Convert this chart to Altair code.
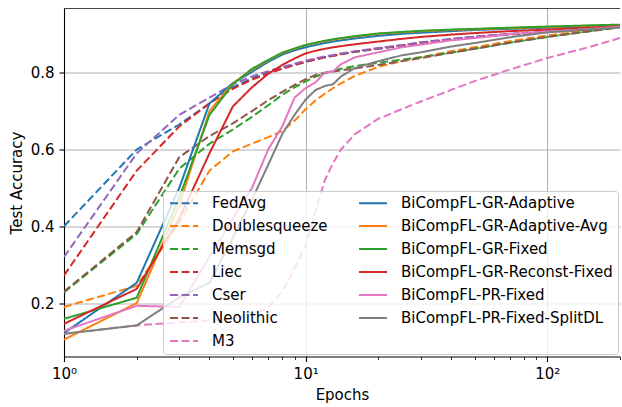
import altair as alt
import pandas as pd

EPOCHS = [1, 2, 3, 4, 5, 6, 7, 8, 9, 10, 11, 12, 13, 14, 16, 20, 25, 30, 40, 50, 70, 100, 150, 200]

FEDAVG = [0.400, 0.600, 0.665, 0.720, 0.762, 0.785, 0.800, 0.812, 0.820, 0.828, 0.835, 0.840,
          0.844, 0.848, 0.854, 0.862, 0.870, 0.877, 0.886, 0.892, 0.899, 0.905, 0.913, 0.919]
DOUBLESQUEEZE = [0.190, 0.245, 0.410, 0.545, 0.595, 0.615, 0.632, 0.648, 0.675, 0.705, 0.728, 0.745,
                 0.760, 0.772, 0.792, 0.815, 0.830, 0.840, 0.856, 0.866, 0.882, 0.897, 0.910, 0.920]
MEMSGD = [0.228, 0.380, 0.550, 0.615, 0.652, 0.685, 0.715, 0.742, 0.762, 0.777, 0.790, 0.798,
          0.805, 0.810, 0.817, 0.826, 0.834, 0.840, 0.852, 0.862, 0.878, 0.893, 0.908, 0.918]
LIEC = [0.272, 0.545, 0.660, 0.720, 0.758, 0.782, 0.798, 0.810, 0.820, 0.828, 0.834, 0.840,
        0.844, 0.848, 0.855, 0.863, 0.871, 0.878, 0.887, 0.893, 0.900, 0.906, 0.913, 0.920]
CSER = [0.320, 0.590, 0.690, 0.735, 0.770, 0.790, 0.804, 0.815, 0.823, 0.831, 0.837, 0.842,
        0.846, 0.850, 0.856, 0.864, 0.872, 0.879, 0.888, 0.894, 0.901, 0.907, 0.914, 0.920]
NEOLITHIC = [0.230, 0.385, 0.580, 0.635, 0.668, 0.700, 0.728, 0.750, 0.768, 0.783, 0.794, 0.800,
             0.803, 0.806, 0.811, 0.820, 0.830, 0.838, 0.852, 0.862, 0.878, 0.893, 0.908, 0.918]
M3 = [0.120, 0.142, 0.150, 0.155, 0.160, 0.168, 0.190, 0.230, 0.290, 0.350, 0.440, 0.520,
      0.565, 0.600, 0.640, 0.680, 0.705, 0.725, 0.755, 0.778, 0.808, 0.838, 0.867, 0.890]

GR_ADAPTIVE = [0.122, 0.253, 0.500, 0.720, 0.773, 0.802, 0.828, 0.847, 0.858, 0.866, 0.872, 0.877,
               0.881, 0.884, 0.889, 0.896, 0.901, 0.904, 0.908, 0.911, 0.914, 0.917, 0.920, 0.922]
GR_ADAPTIVE_AVG = [0.105, 0.200, 0.455, 0.700, 0.772, 0.808, 0.832, 0.851, 0.862, 0.872, 0.877, 0.882,
                   0.886, 0.889, 0.894, 0.901, 0.905, 0.908, 0.911, 0.913, 0.916, 0.919, 0.922, 0.924]
GR_FIXED = [0.159, 0.214, 0.475, 0.690, 0.770, 0.810, 0.833, 0.852, 0.863, 0.872, 0.878, 0.883,
            0.887, 0.890, 0.895, 0.902, 0.906, 0.909, 0.912, 0.914, 0.917, 0.920, 0.923, 0.925]
GR_RECONST_FIXED = [0.146, 0.237, 0.420, 0.590, 0.712, 0.762, 0.797, 0.820, 0.837, 0.850, 0.857, 0.862,
                    0.866, 0.869, 0.874, 0.881, 0.888, 0.893, 0.899, 0.903, 0.908, 0.912, 0.917, 0.921]
PR_FIXED = [0.128, 0.193, 0.190, 0.320, 0.420, 0.500, 0.600, 0.660, 0.735, 0.760, 0.775, 0.800,
            0.803, 0.822, 0.840, 0.853, 0.866, 0.873, 0.884, 0.890, 0.900, 0.907, 0.914, 0.920]
PR_FIXED_SPLITDL = [0.120, 0.142, 0.215, 0.253, 0.370, 0.470, 0.560, 0.640, 0.690, 0.730, 0.755, 0.765,
                    0.770, 0.790, 0.812, 0.830, 0.845, 0.853, 0.868, 0.877, 0.892, 0.905, 0.913, 0.918]

BASELINES = ["FedAvg", "Doublesqueeze", "Memsgd", "Liec", "Cser", "Neolithic", "M3"]
BASELINE_VALUES = [FEDAVG, DOUBLESQUEEZE, MEMSGD, LIEC, CSER, NEOLITHIC, M3]
OURS = ["BiCompFL-GR-Adaptive", "BiCompFL-GR-Adaptive-Avg", "BiCompFL-GR-Fixed",
        "BiCompFL-GR-Reconst-Fixed", "BiCompFL-PR-Fixed", "BiCompFL-PR-Fixed-SplitDL"]
OURS_VALUES = [GR_ADAPTIVE, GR_ADAPTIVE_AVG, GR_FIXED, GR_RECONST_FIXED, PR_FIXED, PR_FIXED_SPLITDL]

BASELINE_COLORS = ["#1f77b4", "#ff7f0e", "#2ca02c", "#d62728", "#9467bd", "#8c564b", "#e377c2"]
OURS_COLORS = ["#1f77b4", "#ff7f0e", "#2ca02c", "#d62728", "#e377c2", "#7f7f7f"]

X_MIN, X_MAX = 1, 200
Y_MIN, Y_MAX = 0.061, 0.967
FONT = "DejaVu Sans"
FS = 15

rows = []
for name, vals in zip(BASELINES, BASELINE_VALUES):
    for e, v in zip(EPOCHS, vals):
        rows.append({"method": name, "epoch": e, "acc": v, "kind": "base"})
for name, vals in zip(OURS, OURS_VALUES):
    for e, v in zip(EPOCHS, vals):
        rows.append({"method": name, "epoch": e, "acc": v, "kind": "ours"})
df = pd.DataFrame(rows)

order = BASELINES + OURS
colors = BASELINE_COLORS + OURS_COLORS
dashes = [[8, 3.5]] * len(BASELINES) + [[1, 0]] * len(OURS)

major_test = "indexof([1, 10, 100], datum.value) >= 0"
x_ticks = [1, 2, 3, 4, 5, 6, 7, 8, 9, 10, 20, 30, 40, 50, 60, 70, 80, 90, 100, 200]

x_enc = alt.X(
    "epoch:Q",
    scale=alt.Scale(type="log", domain=[X_MIN, X_MAX], nice=False),
    axis=alt.Axis(
        title="Epochs",
        values=x_ticks,
        labelExpr="datum.value == 1 ? '10⁰' : (datum.value == 10 ? '10¹' : (datum.value == 100 ? '10²' : ''))",
        labelOverlap=False,
        labelFlush=False,
        tickSize={"condition": {"test": major_test, "value": 5}, "value": 3},
        tickWidth={"condition": {"test": major_test, "value": 1.1}, "value": 0.8},
        gridOpacity={"condition": {"test": major_test, "value": 1}, "value": 0},
        titlePadding=6,
        labelPadding=5,
    ),
)
y_enc = alt.Y(
    "acc:Q",
    scale=alt.Scale(domain=[Y_MIN, Y_MAX], nice=False, zero=False),
    axis=alt.Axis(title="Test Accuracy", values=[0.2, 0.4, 0.6, 0.8], format=".1f",
                  labelFlush=False, tickSize=5, tickWidth=1.1, titlePadding=6, labelPadding=5),
)
color_enc = alt.Color("method:N", scale=alt.Scale(domain=order, range=colors), title=None,
                      legend=alt.Legend(title=None))
dash_enc = alt.StrokeDash("method:N", scale=alt.Scale(domain=order, range=dashes), title=None,
                          legend=alt.Legend(title=None))

base = alt.Chart(df).mark_line(strokeWidth=2, clip=True).encode(
    x=x_enc, y=y_enc, color=color_enc, strokeDash=dash_enc, detail="method:N"
)
dashed = base.transform_filter(alt.datum.kind == "base")
solid = base.transform_filter(alt.datum.kind == "ours")

top_spine = alt.Chart(pd.DataFrame({"acc": [Y_MAX]})).mark_rule(color="#444444", strokeWidth=1).encode(
    y=alt.Y("acc:Q")
)

chart = alt.layer(dashed, solid, top_spine).properties(
    width=556, height=348,
    padding={"left": 64, "top": 8.5, "right": 2, "bottom": 50.5},
    autosize=alt.AutoSizeParams(type="none"),
    background="white",
).configure_view(stroke=None).configure_axis(
    labelFont=FONT, labelFontSize=FS, labelColor="black",
    titleFont=FONT, titleFontSize=FS, titleFontWeight="normal", titleColor="black",
    domainColor="black", domainWidth=1.1, tickColor="black",
    grid=True, gridColor="#b0b0b0", gridWidth=1,
).configure_legend(
    orient="none", legendX=99, legendY=182.5, columns=2, direction="vertical",
    symbolType="M-2.24,0H2.24", symbolSize=156, symbolStrokeWidth=2,
    symbolOffset=9, labelOffset=20.5, rowPadding=7, columnPadding=26,
    padding=4.5, fillColor="rgba(255,255,255,0.8)", strokeColor="#cccccc",
    cornerRadius=3, labelFont=FONT, labelFontSize=FS, labelColor="black", labelLimit=0,
)

chart.save("out.html", embed_options={"renderer": "svg", "actions": False})
